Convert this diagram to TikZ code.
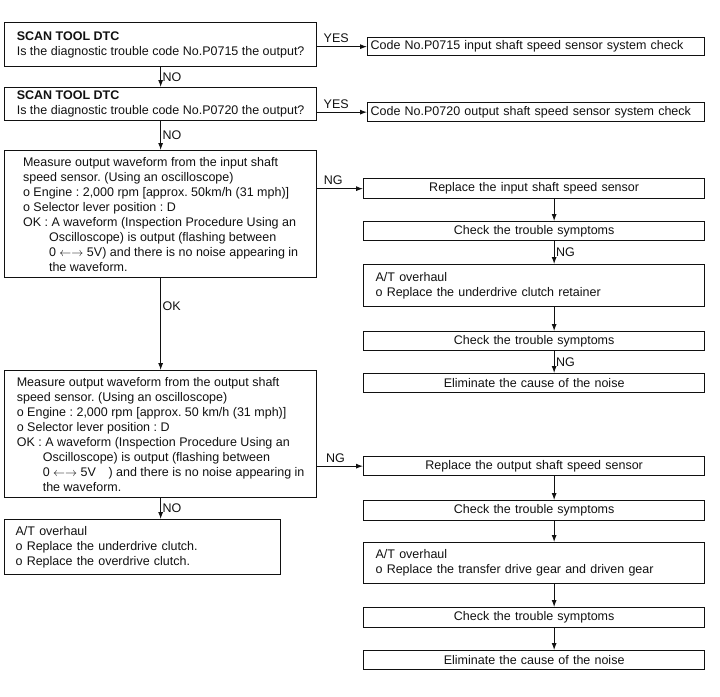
\documentclass[tikz,border=0pt]{standalone}
\usepackage{fontspec}
\setmainfont{Liberation Sans}
\usetikzlibrary{arrows.meta}
\definecolor{ink}{HTML}{111111}
\newcommand{\flowtxt}{\fontsize{12.5}{15}\selectfont\frenchspacing}
\newcommand{\lr}{\(\leftarrow\rightarrow\)}

\begin{document}
\begin{tikzpicture}[x=1pt, y=-1pt,
          box/.style={draw=ink, line width=1.3pt, anchor=north west, inner ysep=0pt, font=\flowtxt, text=ink},
          lbox/.style={box, align=left},
          cbox/.style={box, align=center, inner xsep=0pt, text width=341pt, minimum width=341pt},
          arr/.style={draw=ink, line width=0.9pt, -{Latex[length=7pt,width=5pt]}},
          tag/.style={font=\flowtxt, text=ink, inner sep=1.5pt},
          uptag/.style={tag, above, inner ysep=3.5pt}]
        \useasboundingbox (0,0) rectangle (720,696);
        \node[lbox, minimum width=312pt, minimum height=44pt] (scanA) at (4,22)
          {\textbf{SCAN TOOL DTC}\\Is the diagnostic trouble code No.P0715 the output?};
        \node[lbox, minimum width=337pt, minimum height=18pt, text width=331pt, inner xsep=3pt] (codeA) at (367,37)
          {Code No.P0715 input shaft speed sensor system check};
        \node[lbox, minimum width=312pt, minimum height=33pt] (scanB) at (4,87)
          {\textbf{SCAN TOOL DTC}\\Is the diagnostic trouble code No.P0720 the output?};
        \node[lbox, minimum width=337pt, minimum height=19pt, text width=331pt, inner xsep=3pt] (codeB) at (367,102)
          {Code No.P0720 output shaft speed sensor system check};
        \node[lbox, minimum width=312pt, minimum height=127pt] (measA) at (4,150)
          {Measure output waveform from the input shaft\\speed sensor. (Using an oscilloscope)\\
           o Engine : 2,000 rpm [approx. 50km/h (31 mph)]\\o Selector lever position : D\\
           OK : A waveform (Inspection Procedure Using an\\\hspace*{26pt}Oscilloscope) is output (flashing between\\
           \hspace*{26pt}0 \lr{} 5V) and there is no noise appearing in\\\hspace*{26pt}the waveform.};
        \node[lbox, minimum width=312pt, minimum height=127pt] (measB) at (4,370)
          {Measure output waveform from the output shaft\\speed sensor. (Using an oscilloscope)\\
           o Engine : 2,000 rpm [approx. 50 km/h (31 mph)]\\o Selector lever position : D\\
           OK : A waveform (Inspection Procedure Using an\\\hspace*{26pt}Oscilloscope) is output (flashing between\\
           \hspace*{26pt}0 \lr{} 5V\quad) and there is no noise appearing in\\\hspace*{26pt}the waveform.};
        \node[lbox, minimum width=276pt, minimum height=55pt, text width=254pt, inner xsep=11pt] (atOh) at (4,519)
          {A/T overhaul\\o Replace the underdrive clutch.\\o Replace the overdrive clutch.};
        \node[cbox, minimum height=20pt] (repIn) at (363,178) {Replace the input shaft speed sensor};
        \node[cbox, minimum height=19pt] (chkInA) at (363,221) {Check the trouble symptoms};
        \node[lbox, minimum width=341pt, minimum height=42pt, text width=317pt, inner xsep=12pt] (ohIn) at (363,264)
          {A/T overhaul\\o Replace the underdrive clutch retainer};
        \node[cbox, minimum height=19pt] (chkInB) at (363,331) {Check the trouble symptoms};
        \node[cbox, minimum height=19pt] (elimIn) at (363,373) {Eliminate the cause of the noise};
        \node[cbox, minimum height=19pt] (repOut) at (363,456) {Replace the output shaft speed sensor};
        \node[cbox, minimum height=20pt] (chkOutA) at (363,500) {Check the trouble symptoms};
        \node[lbox, minimum width=341pt, minimum height=41pt, text width=317pt, inner xsep=12pt] (ohOut) at (363,542)
          {A/T overhaul\\o Replace the transfer drive gear and driven gear};
        \node[cbox, minimum height=20pt] (chkOutB) at (363,607) {Check the trouble symptoms};
        \node[cbox, minimum height=19pt] (elimOut) at (363,650) {Eliminate the cause of the noise};
        \draw[arr] (scanA.east |- codeA.west) -- node[uptag, pos=0.38] {YES} (codeA.west);
        \draw[arr] (scanB.east |- codeB.west) -- node[uptag, pos=0.38] {YES} (codeB.west);
        \draw[arr] (scanA.south) -- node[tag, right] {NO} (scanB.north);
        \draw[arr] (scanB.south) -- node[tag, right] {NO} (measA.north);
        \draw[arr] (measA.south) -- node[tag, right, pos=0.3] {OK} (measB.north);
        \draw[arr] (measB.south) -- node[tag, right] {NO} (measB.south |- atOh.north);
        \draw[arr] (measA.east |- repIn.west) -- node[uptag, pos=0.35] {NG} (repIn.west);
        \draw[arr] (measB.east |- repOut.west) -- node[uptag, pos=0.4] {NG} (repOut.west);
        \foreach \a/\b in {repIn/chkInA, ohIn/chkInB, repOut/chkOutA, chkOutA/ohOut, ohOut/chkOutB, chkOutB/elimOut}
          \draw[arr] ([xshift=20pt]\a.south) -- ([xshift=20pt]\b.north);
        \foreach \a/\b in {chkInA/ohIn, chkInB/elimIn}
          \draw[arr] ([xshift=20pt]\a.south) -- node[tag, right] {NG} ([xshift=20pt]\b.north);
      \end{tikzpicture}
\end{document}
